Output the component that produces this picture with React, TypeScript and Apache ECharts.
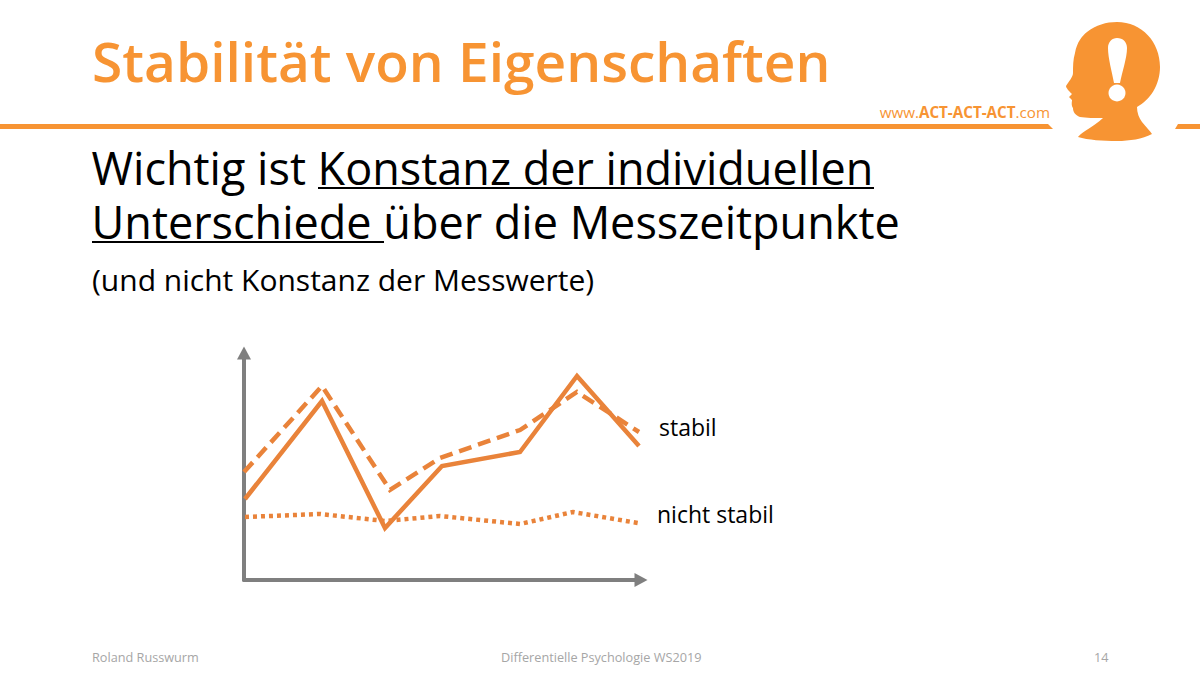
import React, { useEffect, useRef } from "react";
import * as echarts from "echarts";

const solidX = [1, 78, 141, 198, 276, 333, 395];
const solidY = [81, 179, 52, 114, 128, 204, 134];
const dashedX = [0, 78, 146, 196, 276, 333, 395];
const dashedY = [108, 194, 90, 122, 150, 188, 148];
const dottedX = [1, 76, 141, 196, 276, 329, 394];
const dottedY = [63, 66, 59, 64, 56, 68, 57];

const toPairs = (xs: number[], ys: number[]) => xs.map((x, i) => [x, ys[i]]);

const titleText = "Stabilität von Eigenschaften";
const bodyLines = ["Wichtig ist Konstanz der individuellen", "Unterschiede über die Messzeitpunkte"];
const subText = "(und nicht Konstanz der Messwerte)";
const labelStable = "stabil";
const labelUnstable = "nicht stabil";
const footerLeft = "Roland Russwurm";
const footerCenter = "Differentielle Psychologie WS2019";
const footerRight = "14";

const ORANGE = "#F79433";
const LINE = "#E9833A";
const AXIS = "#7F7F7F";
const FONT = "'Open Sans', sans-serif";

const headPath =
  "M1117 22 C1142 22 1160 42 1160 67 C1160 85 1150 100 1137 107 C1137 113 1139 118 1142 122 C1146 127 1150 131 1152 134 C1142 139 1130 141 1117 141 C1103 141 1088 140 1078 137 C1083 131 1093 127 1103 118 C1095 118 1086 118 1080 117 C1075 115 1073 112 1073 108 C1071 105 1072 102 1072 100 L1069 97 L1072 94 C1069 91 1066 88 1066 86 C1069 81 1073 77 1073 73 C1073 66 1073 60 1075 53 C1077 42 1082 36 1087 32 C1096 25 1106 22 1117 22 Z";
const bangPath =
  "M1117 38 C1123 38 1127 42 1127 48 C1127 58 1122 72 1120 83 L1114 83 C1112 72 1108 58 1108 48 C1108 42 1112 38 1117 38 Z";

echarts.graphic.registerShape("head", echarts.graphic.extendPath(headPath as any, {} as any) as any);
echarts.graphic.registerShape("bang", echarts.graphic.extendPath(bangPath as any, {} as any) as any);

export default function App() {
  const ref = useRef<HTMLDivElement>(null);
  useEffect(() => {
    document.body.style.margin = "0";
    const chart = echarts.init(ref.current!, null, { renderer: "svg" });
    const txt = (x: number, y: number, text: string, fontSize: number, fill: string, extra: any = {}) => ({
      type: "text",
      x,
      y,
      style: { text, fontSize, fill, fontFamily: FONT, ...extra },
    });
    const lineStyle = (type: any) => ({ color: LINE, width: 4.5, type, cap: "butt", join: "miter" });
    const common = {
      type: "line",
      showSymbol: false,
      symbol: "none",
      silent: true,
      smooth: false,
    };
    const axis = (max: number) => ({
      type: "value",
      min: 0,
      max,
      axisLine: {
        show: true,
        symbol: ["none", "triangle"],
        symbolSize: [14, 13],
        lineStyle: { color: AXIS, width: 4 },
      },
      axisTick: { show: false },
      axisLabel: { show: false },
      splitLine: { show: false },
    });
    chart.setOption({
      animation: false,
      backgroundColor: "#fff",
      grid: { left: 244, top: 353, width: 397, height: 227 },
      xAxis: axis(397),
      yAxis: axis(227),
      series: [
        { ...common, name: "solid", data: toPairs(solidX, solidY), lineStyle: lineStyle("solid") },
        { ...common, name: "dashed", data: toPairs(dashedX, dashedY), lineStyle: lineStyle([13, 7]) },
        { ...common, name: "dotted", data: toPairs(dottedX, dottedY), lineStyle: lineStyle([4, 4]) },
      ],
      graphic: [
        txt(92, 33, titleText, 55, ORANGE, { fontWeight: 600 }),
        { type: "polygon", shape: { points: [[0, 124], [1048, 124], [1053, 129], [0, 129]] }, style: { fill: ORANGE } },
        { type: "polygon", shape: { points: [[1178, 124], [1200, 124], [1200, 129], [1175, 129]] }, style: { fill: ORANGE } },
        { type: "head", style: { fill: ORANGE } },
        { type: "bang", style: { fill: "#fff" } },
        { type: "circle", shape: { cx: 1117, cy: 93, r: 8.5 }, style: { fill: "#fff" } },
        {
          type: "text",
          x: 1050,
          y: 119,
          style: {
            text: "{a|www.}{b|ACT-ACT-ACT}{a|.com}",
            align: "right",
            verticalAlign: "bottom",
            rich: {
              a: { fontSize: 15.2, fill: ORANGE, fontFamily: FONT },
              b: { fontSize: 15.2, fill: ORANGE, fontFamily: FONT, fontWeight: 700 },
            },
          },
        },
        txt(91.5, 140.5, bodyLines.join("\n"), 45, "#000", { lineHeight: 54 }),
        { type: "rect", shape: { x: 318, y: 187, width: 556, height: 2 }, style: { fill: "#000" } },
        { type: "rect", shape: { x: 92, y: 241, width: 292, height: 2 }, style: { fill: "#000" } },
        txt(92, 264.5, subText, 30, "#000"),
        txt(659, 415, labelStable, 23, "#000"),
        txt(657, 502, labelUnstable, 23, "#000"),
        txt(92, 650, footerLeft, 12.7, "#a6a6a6"),
        txt(501, 650, footerCenter, 12.7, "#a6a6a6"),
        txt(1094, 650, footerRight, 12.7, "#a6a6a6"),
      ],
    });
    return () => chart.dispose();
  }, []);
  return <div ref={ref} style={{ position: "absolute", left: 0, top: 0, width: 1200, height: 675 }} />;
}
